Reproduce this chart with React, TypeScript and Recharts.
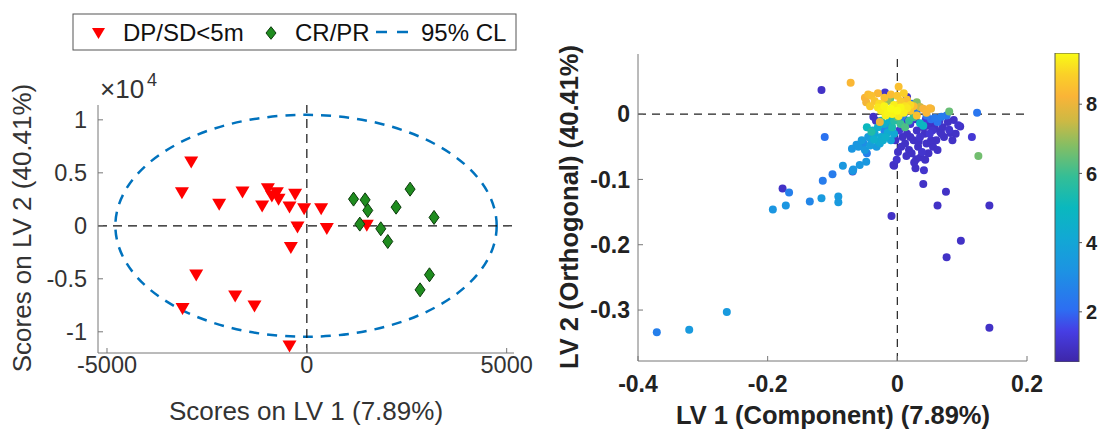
import React from "react";
import { ScatterChart, Scatter, BarChart, Bar, XAxis, YAxis, ReferenceLine, ReferenceArea } from "recharts";

// left panel: scores, LV2 in units of 1e4
const dpsdX = [-2893, -3125, -2193, -1610, -975, -750, -875, -708, -293, -1118, -434, -68, 358, -234, 500, 1500, -400, -2768, -1793, -1310, -3110, -434];
const dpsdY = [0.597, 0.308, 0.198, 0.314, 0.346, 0.308, 0.277, 0.245, 0.292, 0.182, 0.173, 0.157, 0.157, -0.016, -0.031, 0.0, -0.21, -0.469, -0.667, -0.761, -0.786, -1.138];
const crprX = [1168, 1458, 1525, 2583, 2233, 3183, 1325, 1850, 2025, 3068, 2833];
const crprY = [0.252, 0.245, 0.145, 0.346, 0.176, 0.079, 0.016, -0.028, -0.148, -0.462, -0.604];
const clBounds = [-4790, 4750, -1.047, 1.047];
const leftXTicks = [-5000, 0, 5000];
const leftYTicks = [-1, -0.5, 0, 0.5, 1];

// right panel: [LV1, LV2, colour value]
const lvScores: [number, number, number][] = [
  // outlying dark points
  [-0.117, 0.037, 1.0], [-0.177, -0.114, 1.0], [-0.069, -0.088, 1.0], [-0.019, 0.033, 1.1],
  [0.015, 0.026, 1.0], [-0.006, -0.078, 1.0], [-0.009, -0.156, 1.0], [-0.001, -0.07, 1.1],
  [-0.005, -0.079, 1.0], [0.028, -0.083, 1.0], [0.029, -0.069, 1.0], [0.041, -0.086, 1.1],
  [0.043, -0.07, 1.0], [0.04, -0.107, 1.0], [0.055, -0.05, 1.0], [0.075, -0.119, 1.0],
  [0.062, -0.14, 1.0], [0.142, -0.14, 1.0], [0.098, -0.194, 1.0], [0.076, -0.219, 1.0],
  [0.142, -0.327, 1.0], [0.115, -0.035, 1.2], [0.097, -0.019, 1.0], [0.094, -0.017, 1.1],
  [0.082, -0.029, 1.0], [0.087, -0.009, 1.0], [0.066, -0.027, 1.0], [-0.037, -0.004, 1.0],
  [-0.033, -0.01, 1.0], [0.016, -0.01, 1.0],
  // dense dark cluster
  [0.005, -0.01, 1.0], [0.01, -0.02, 1.1], [0.015, -0.03, 1.0], [0.02, -0.015, 1.2],
  [0.025, -0.04, 1.0], [0.03, -0.025, 1.0], [0.035, -0.035, 1.1], [0.04, -0.02, 1.0],
  [0.045, -0.045, 1.0], [0.05, -0.03, 1.2], [0.055, -0.015, 1.0], [0.06, -0.04, 1.0],
  [0.065, -0.01, 1.1], [0.07, -0.02, 1.0], [0.072, -0.035, 1.0], [0.078, -0.012, 1.0],
  [0.08, -0.024, 1.1], [0.012, -0.045, 1.0], [0.018, -0.055, 1.0], [0.022, -0.06, 1.0],
  [0.032, -0.05, 1.0], [0.038, -0.058, 1.1], [0.048, -0.06, 1.0], [0.052, -0.04, 1.0],
  [0.008, -0.035, 1.0], [0.003, -0.025, 1.2], [-0.003, -0.04, 1.0], [0.028, -0.008, 1.0],
  [0.044, -0.008, 1.3], [0.058, -0.022, 1.0], [0.036, -0.066, 1.0], [0.026, -0.074, 1.0],
  [0.014, -0.064, 1.0], [0.062, -0.055, 1.0], [0.068, -0.03, 1.0], [0.09, -0.03, 1.0],
  [0.085, -0.04, 1.0], [0.006, -0.05, 1.0], [0.02, -0.035, 1.0], [0.042, -0.03, 1.0],
  [0.054, -0.025, 1.1], [0.033, -0.042, 1.0], [0.046, -0.018, 1.0], [0.001, -0.058, 1.0],
  // blue
  [-0.112, -0.035, 2.2], [-0.1, -0.092, 2.5], [-0.115, -0.102, 2.5], [-0.167, -0.12, 2.6],
  [-0.135, -0.134, 2.8], [-0.371, -0.334, 2.6], [-0.047, -0.06, 2.6], [0.123, 0.002, 2.3],
  [0.062, -0.012, 2.3], [0.076, -0.002, 2.3], [0.022, 0.016, 2.3], [0.045, -0.002, 2.4],
  [0.052, -0.008, 2.2], [0.068, -0.004, 2.5], [0.01, 0.0, 2.5], [0.005, -0.008, 2.6],
  [-0.01, -0.015, 2.6], [-0.02, -0.025, 2.7], [-0.052, -0.045, 3.0], [0.03, 0.005, 2.4],
  [0.058, -0.006, 2.4], [-0.014, -0.022, 2.8],
  // light blue / cyan
  [-0.192, -0.146, 3.3], [-0.172, -0.14, 3.3], [-0.117, -0.129, 3.5], [-0.091, -0.126, 3.5],
  [-0.091, -0.135, 3.5], [-0.321, -0.33, 3.5], [-0.263, -0.303, 3.5], [-0.084, -0.079, 3.4],
  [-0.069, -0.087, 3.3], [-0.058, -0.078, 3.4], [-0.048, -0.073, 3.4], [-0.068, -0.085, 3.3],
  [-0.07, -0.053, 3.3], [-0.063, -0.047, 3.3], [-0.06, -0.05, 3.4], [-0.032, -0.05, 3.5],
  [-0.027, -0.045, 4.0], [-0.029, -0.042, 4.2], [-0.04, -0.04, 3.8], [-0.045, -0.035, 3.6],
  [-0.035, -0.03, 4.0], [-0.025, -0.035, 4.3], [-0.03, -0.02, 4.5], [-0.02, -0.015, 4.4],
  [-0.015, -0.028, 4.2], [-0.01, -0.04, 3.9], [-0.005, -0.03, 4.1], [-0.038, -0.025, 4.6],
  [-0.036, -0.039, 4.5], [-0.055, -0.04, 3.6], [-0.05, -0.055, 3.5], [-0.042, -0.048, 3.7],
  [-0.022, -0.04, 4.4], [-0.012, -0.01, 4.6], [-0.018, -0.035, 4.5],
  // teal / green
  [-0.047, -0.02, 5.0], [-0.04, -0.027, 5.5], [0.035, -0.014, 4.8], [0.04, -0.018, 4.9],
  [-0.011, 0.024, 6.5], [0.08, 0.004, 6.5], [0.125, -0.064, 6.6], [0.005, -0.015, 6.0],
  [0.012, -0.02, 6.2], [0.018, -0.01, 5.8], [0.025, -0.005, 6.0], [-0.005, -0.01, 5.6],
  [0.0, -0.005, 6.3], [0.03, 0.018, 6.8], [0.035, 0.011, 7.5], [-0.015, 0.02, 7.0],
  [-0.025, -0.01, 5.2], [-0.008, -0.02, 5.4],
  // orange
  [-0.072, 0.048, 8.3], [0.002, 0.042, 8.5], [0.052, 0.008, 8.0], [0.05, 0.009, 8.3],
  [-0.027, -0.012, 8.0], [-0.045, 0.03, 8.4], [-0.05, 0.025, 8.2], [-0.04, 0.028, 8.5],
  [-0.035, 0.02, 8.6], [-0.03, 0.032, 8.3], [-0.02, 0.025, 8.5], [-0.01, 0.03, 8.4],
  [0.0, 0.028, 8.6], [0.005, 0.02, 8.7], [0.015, 0.022, 8.5], [0.025, 0.012, 8.4],
  [0.04, 0.008, 8.2], [0.045, 0.002, 8.3], [-0.048, 0.018, 8.1], [-0.025, 0.015, 8.8],
  [0.02, 0.005, 8.6], [0.03, -0.002, 8.5], [-0.042, 0.012, 8.7], [0.01, 0.032, 8.8],
  // yellow core
  [-0.03, 0.01, 9.2], [-0.025, 0.005, 9.3], [-0.02, 0.012, 9.4], [-0.015, 0.003, 9.4],
  [-0.01, 0.008, 9.5], [-0.005, 0.014, 9.3], [0.0, 0.005, 9.5], [0.005, 0.01, 9.4],
  [0.01, 0.002, 9.3], [0.015, 0.009, 9.2], [0.02, 0.014, 9.0], [-0.018, -0.002, 9.3],
  [-0.008, 0.0, 9.4], [0.002, -0.003, 9.2], [0.012, 0.012, 9.1], [-0.028, 0.016, 9.0],
];
const rightXTicks = [-0.4, -0.2, 0, 0.2];
const rightYTicks = [-0.3, -0.2, -0.1, 0];
const cbarRange: [number, number] = [0.55, 9.48];
const cbarTicks = [2, 4, 6, 8];

const FONT = "'Liberation Sans', Arial, sans-serif";

const PARULA: [number, number[]][] = [
  [0.0, [62, 38, 168]], [0.1, [70, 62, 228]], [0.17, [45, 110, 242]], [0.3, [28, 148, 226]],
  [0.4, [18, 168, 212]], [0.5, [10, 184, 190]], [0.6, [52, 190, 150]], [0.7, [132, 190, 100]],
  [0.78, [205, 185, 68]], [0.86, [250, 180, 55]], [0.93, [250, 208, 40]], [1.0, [249, 251, 21]],
];

function parula(v: number) {
  const t = Math.max(0, Math.min(1, (v - cbarRange[0]) / (cbarRange[1] - cbarRange[0])));
  for (let i = 1; i < PARULA.length; i++) {
    const [t1, c1] = PARULA[i];
    const [t0, c0] = PARULA[i - 1];
    if (t <= t1) {
      const f = (t - t0) / (t1 - t0);
      const c = c0.map((a, k) => Math.round(a + (c1[k] - a) * f));
      return `rgb(${c[0]},${c[1]},${c[2]})`;
    }
  }
  return "rgb(249,251,21)";
}

const dpsd = dpsdX.map((x, i) => ({ x, y: dpsdY[i] }));
const crpr = crprX.map((x, i) => ({ x, y: crprY[i] }));
const rightData = lvScores.map(([x, y, c]) => ({ x, y, c })).sort((a, b) => a.c - b.c);
const cbarData = [{ name: "c", range: cbarRange }];

const Tri = (p: any) => (
  <polygon points={`${p.cx - 7},${p.cy - 6} ${p.cx + 7},${p.cy - 6} ${p.cx},${p.cy + 6}`} fill="#ff0000" />
);
const Dia = (p: any) => (
  <polygon
    points={`${p.cx},${p.cy - 7} ${p.cx + 5},${p.cy} ${p.cx},${p.cy + 7} ${p.cx - 5},${p.cy}`}
    fill="#1f8c1f" stroke="#0b3a0b" strokeWidth={1}
  />
);
const Dot = (p: any) => <circle cx={p.cx} cy={p.cy} r={4} fill={parula(p.payload.c)} />;

const ClEllipse = (p: any) => (
  <ellipse
    cx={p.x + p.width / 2} cy={p.y + p.height / 2} rx={p.width / 2} ry={p.height / 2}
    fill="none" stroke="#0072bd" strokeWidth={2.5} strokeDasharray="10 8"
  />
);

function LeftPanel() {
  const tick = { fill: "#333", fontSize: 23.5, fontFamily: FONT };
  const xd: [number, number] = [-5225, 5183];
  const yd: [number, number] = [-1.2, 1.14];
  return (
    <ScatterChart width={540} height={429} margin={{ top: 105, right: 26, bottom: 46, left: 38 }}>
      <XAxis type="number" dataKey="x" domain={xd} ticks={leftXTicks} allowDataOverflow
        tickSize={-5} tickMargin={8} stroke="#777" tick={tick} />
      <YAxis type="number" dataKey="y" domain={yd} ticks={leftYTicks} allowDataOverflow width={60}
        tickSize={-5} tickMargin={16} stroke="#777" tick={tick} />
      <XAxis xAxisId="top" orientation="top" type="number" domain={xd} ticks={leftXTicks} allowDataOverflow
        height={0} tickSize={-5} tick={false} stroke="#777" />
      <YAxis yAxisId="right" orientation="right" type="number" domain={yd} ticks={leftYTicks} allowDataOverflow
        width={0} tickSize={-5} tick={false} stroke="#777" />
      <ReferenceArea x1={clBounds[0]} x2={clBounds[1]} y1={clBounds[2]} y2={clBounds[3]} shape={ClEllipse} />
      <ReferenceLine x={0} stroke="#111" strokeDasharray="9 6" strokeWidth={1.2} />
      <ReferenceLine y={0} stroke="#111" strokeDasharray="9 6" strokeWidth={1.2} />
      <Scatter data={dpsd} shape={Tri} isAnimationActive={false} />
      <Scatter data={crpr} shape={Dia} isAnimationActive={false} />
    </ScatterChart>
  );
}

function RightPanel() {
  const tick = { fill: "#222", fontSize: 23, fontWeight: "bold", fontFamily: FONT };
  const xd: [number, number] = [-0.4, 0.2];
  const yd: [number, number] = [-0.378, 0.092];
  return (
    <ScatterChart width={510} height={429} margin={{ top: 54, right: 23, bottom: 38, left: 38 }}>
      <XAxis type="number" dataKey="x" domain={xd} ticks={rightXTicks} allowDataOverflow
        tickSize={-5} tickMargin={20} stroke="#777" tick={tick} />
      <YAxis type="number" dataKey="y" domain={yd} ticks={rightYTicks} allowDataOverflow width={60}
        tickSize={-5} tickMargin={13} stroke="#777" tick={tick} />
      <XAxis xAxisId="top" orientation="top" type="number" domain={xd} ticks={rightXTicks} allowDataOverflow
        height={0} tickSize={-5} tick={false} stroke="#777" />
      <YAxis yAxisId="right" orientation="right" type="number" domain={yd} ticks={rightYTicks} allowDataOverflow
        width={0} tickSize={-5} tick={false} stroke="#777" />
      <ReferenceLine x={0} stroke="#222" strokeDasharray="8 6" strokeWidth={1.2} />
      <ReferenceLine y={0} stroke="#222" strokeDasharray="8 6" strokeWidth={1.2} />
      <Scatter data={rightData} shape={Dot} isAnimationActive={false} />
    </ScatterChart>
  );
}

function ColorBar() {
  return (
    <BarChart width={58} height={429} data={cbarData} barCategoryGap={0}
      margin={{ top: 53, right: 0, bottom: 67, left: 15 }}>
      <defs>
        <linearGradient id="parulaGrad" x1="0" y1="1" x2="0" y2="0">
          {PARULA.map(([t, c]) => (
            <stop key={t} offset={`${t * 100}%`} stopColor={`rgb(${c[0]},${c[1]},${c[2]})`} />
          ))}
        </linearGradient>
      </defs>
      <XAxis dataKey="name" hide />
      <YAxis type="number" orientation="right" domain={cbarRange} ticks={cbarTicks} allowDataOverflow
        width={19} axisLine={false} tickSize={3} tickMargin={4} stroke="#555"
        tick={{ fill: "#222", fontSize: 20, fontWeight: "bold", fontFamily: FONT }} />
      <Bar dataKey="range" fill="url(#parulaGrad)" stroke="#555" strokeWidth={1} isAnimationActive={false} />
    </BarChart>
  );
}

function Overlay() {
  return (
    <svg width={1098} height={429} style={{ position: "absolute", left: 0, top: 0, pointerEvents: "none" }}
      fontFamily={FONT}>
      <rect x={73} y={14} width={443} height={36} fill="#fff" stroke="#555" strokeWidth={1} />
      <polygon points="92,28 105,28 98.5,39" fill="#ff0000" />
      <text x={123} y={41} fontSize={24} fill="#111">DP/SD&lt;5m</text>
      <polygon points="271,26.7 276,33 271,39.3 266,33" fill="#1f8c1f" stroke="#0b3a0b" strokeWidth={1} />
      <text x={295} y={41} fontSize={24} fill="#111">CR/PR</text>
      <line x1={376} y1={32} x2={409} y2={32} stroke="#0072bd" strokeWidth={2.5} strokeDasharray="11 10" />
      <text x={421} y={41} fontSize={24} fill="#111">95% CL</text>

      <text x={100} y={98} fontSize={26} fill="#333">×10</text>
      <text x={147} y={86} fontSize={18} fill="#333">4</text>

      <text x={306} y={420} fontSize={26} fill="#333" textAnchor="middle">Scores on LV 1 (7.89%)</text>
      <text transform="translate(31,228) rotate(-90)" fontSize={26} fill="#333" textAnchor="middle">
        Scores on LV 2 (40.41%)
      </text>
      <text x={833} y={424} fontSize={25.5} fontWeight="bold" fill="#222" textAnchor="middle">
        LV 1 (Component) (7.89%)
      </text>
      <text transform="translate(578,207) rotate(-90)" fontSize={25.5} fontWeight="bold" fill="#222" textAnchor="middle">
        LV 2 (Orthogonal) (40.41%)
      </text>
    </svg>
  );
}

export default function App() {
  return (
    <div style={{ position: "absolute", left: 0, top: 0, width: 1098, height: 429, background: "#fff" }}>
      <div style={{ position: "absolute", left: 0, top: 0 }}><LeftPanel /></div>
      <div style={{ position: "absolute", left: 540, top: 0 }}><RightPanel /></div>
      <div style={{ position: "absolute", left: 1040, top: 0 }}><ColorBar /></div>
      <Overlay />
    </div>
  );
}
